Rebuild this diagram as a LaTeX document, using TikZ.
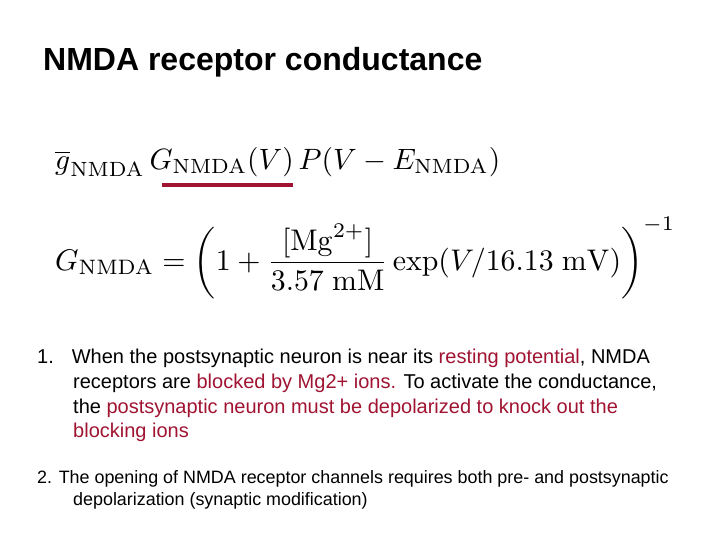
\documentclass[tikz,border=0pt]{standalone}
\usepackage[no-math]{fontspec}
\setmainfont{Liberation Sans}
\usepackage{amsmath}
\definecolor{dred}{RGB}{160,20,50}
\tikzset{txt/.style={anchor=base west,inner sep=0pt,font=\fontsize{20}{24}\selectfont},
txtb/.style={anchor=base west,inner sep=0pt,font=\fontsize{17.9}{22}\selectfont}}
\begin{document}
\begin{tikzpicture}[x=1pt,y=-1pt]
\useasboundingbox[fill=white] (0,0) rectangle (720,540);
\node[anchor=base west,inner sep=0pt,font=\bfseries\fontsize{32}{36}\selectfont] (title) at (43,71) {NMDA receptor conductance};
\node[anchor=west,inner sep=0pt] (eq1) at (55,162) {\resizebox{445pt}{!}{$\overline{g}_{\mathrm{NMDA}}\,G_{\mathrm{NMDA}}(V)\,P(V-E_{\mathrm{NMDA}})$}};
\draw[dred,line width=3.5pt] (162,185) -- (293,185);
\node[anchor=west,inner sep=0pt] (eq2) at (55,258) {\resizebox{620pt}{!}{$G_{\mathrm{NMDA}}=\left(1+\dfrac{[\mathrm{Mg}^{2+}]}{3.57\ \mathrm{mM}}\exp(V/16.13\ \mathrm{mV})\right)^{-1}$}};
\node[txt] (l1) at (37,363) {1.\hspace{0.9em}When the postsynaptic neuron is near its \textcolor{dred}{resting potential}, NMDA};
\node[txt] (l2) at (73,388) {receptors are \textcolor{dred}{blocked by Mg2+ ions.} To activate the conductance,};
\node[txt] (l3) at (73,413) {the \textcolor{dred}{postsynaptic neuron must be depolarized to knock out the}};
\node[txt] (l4) at (73,437) {\textcolor{dred}{blocking ions}};
\node[txtb] (m1) at (37,483) {2. The opening of NMDA receptor channels requires both pre- and postsynaptic};
\node[txtb] (m2) at (73,505) {depolarization (synaptic modification)};
\end{tikzpicture}
\end{document}
